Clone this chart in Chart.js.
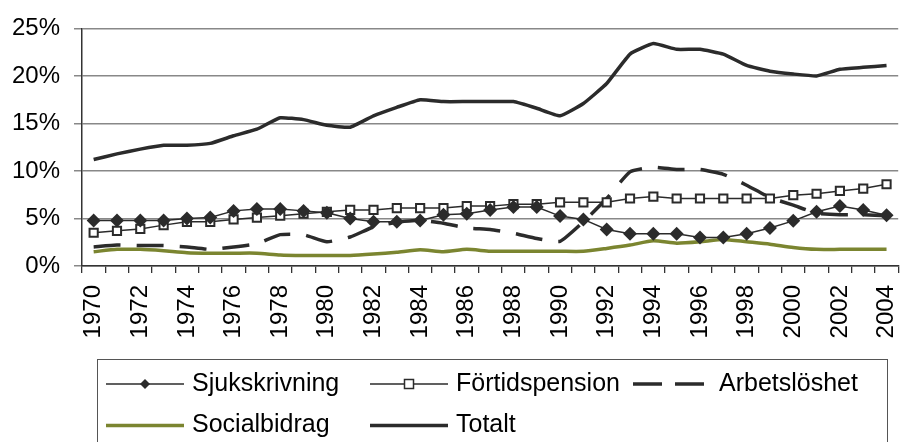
<!DOCTYPE html>
<html>
<head>
<meta charset="utf-8">
<script src="https://cdn.jsdelivr.net/npm/chart.js@4"></script>
<style>
    html, body { margin: 0; padding: 0; background: #fff; overflow: hidden; }
    #wrap { width: 906px; height: 442px; }
</style>
</head>
<body>
<div id="wrap"><canvas id="chart" width="906" height="442"></canvas></div>
<script>
const years = ['1970', '1971', '1972', '1973', '1974', '1975', '1976', '1977', '1978', '1979',
    '1980', '1981', '1982', '1983', '1984', '1985', '1986', '1987', '1988', '1989',
    '1990', '1991', '1992', '1993', '1994', '1995', '1996', '1997', '1998', '1999',
    '2000', '2001', '2002', '2003', '2004'];

const sjukskrivning = [4.8, 4.8, 4.8, 4.8, 5.0, 5.1, 5.8, 6.0, 6.0, 5.8,
    5.6, 5.0, 4.65, 4.65, 4.8, 5.4, 5.5, 5.9, 6.2, 6.2,
    5.25, 4.9, 3.85, 3.4, 3.4, 3.4, 3.0, 3.0, 3.4, 4.0,
    4.75, 5.7, 6.3, 5.9, 5.35];

const fortidspension = [3.5, 3.7, 3.9, 4.3, 4.65, 4.65, 4.9, 5.1, 5.3, 5.5,
    5.7, 5.9, 5.9, 6.1, 6.1, 6.1, 6.3, 6.3, 6.5, 6.5,
    6.7, 6.7, 6.7, 7.1, 7.3, 7.1, 7.1, 7.1, 7.1, 7.1,
    7.45, 7.6, 7.9, 8.15, 8.6];

const arbetsloshet = [2.0, 2.2, 2.15, 2.15, 2.0, 1.75, 2.0, 2.35, 3.3, 3.3,
    2.55, 3.05, 4.1, 4.6, 4.8, 4.5, 4.0, 3.85, 3.45, 2.9,
    2.6, 4.65, 7.1, 9.9, 10.4, 10.15, 10.15, 9.65, 8.5, 7.2,
    6.4, 5.55, 5.4, 5.4, 5.3];

const socialbidrag = [1.5, 1.75, 1.75, 1.6, 1.4, 1.35, 1.35, 1.35, 1.15, 1.1,
    1.1, 1.1, 1.25, 1.45, 1.7, 1.5, 1.75, 1.55, 1.55, 1.55,
    1.55, 1.55, 1.85, 2.2, 2.65, 2.4, 2.55, 2.8, 2.55, 2.3,
    1.95, 1.75, 1.75, 1.75, 1.75];

const totalt = [11.2, 11.8, 12.3, 12.7, 12.7, 12.9, 13.7, 14.4, 15.6, 15.4,
    14.8, 14.6, 15.8, 16.7, 17.5, 17.3, 17.3, 17.3, 17.3, 16.6,
    15.8, 17.1, 19.2, 22.3, 23.4, 22.8, 22.8, 22.3, 21.1, 20.5,
    20.2, 20.0, 20.7, 20.9, 21.1];

const yTicks = [0, 5, 10, 15, 20, 25];

const DARK = '#2b2b2b';
const OLIVE = '#7b8530';
const FONT = '"Liberation Sans", Arial, sans-serif';

// legend drawn by hand so the columns line up like the original
const legendPlugin = {
    id: 'gridLegend',
    afterDraw(chart) {
        const ctx = chart.ctx;
        const cols = [106, 370, 633];
        const rows = [384, 425.5];
        const slots = [[0, 0], [0, 1], [0, 2], [1, 0], [1, 1]];
        ctx.save();
        ctx.strokeStyle = '#555';
        ctx.lineWidth = 1;
        ctx.strokeRect(97.5, 359.5, 790, 120);

        chart.data.datasets.forEach((ds, i) => {
            const x = cols[slots[i][1]];
            const y = rows[slots[i][0]];
            ctx.strokeStyle = ds.borderColor;
            ctx.lineWidth = ds.borderWidth;
            ctx.setLineDash(ds.borderDash ? [29, 13] : []);
            ctx.beginPath();
            ctx.moveTo(x, y);
            ctx.lineTo(x + 78, y);
            ctx.stroke();
            ctx.setLineDash([]);

            const cx = x + 39;
            if (ds.pointStyle === 'rectRot') {
                ctx.fillStyle = DARK;
                ctx.beginPath();
                ctx.moveTo(cx, y - 5);
                ctx.lineTo(cx + 5, y);
                ctx.lineTo(cx, y + 5);
                ctx.lineTo(cx - 5, y);
                ctx.closePath();
                ctx.fill();
            } else if (ds.pointStyle === 'rect') {
                ctx.fillStyle = '#fff';
                ctx.strokeStyle = DARK;
                ctx.lineWidth = 1.5;
                ctx.fillRect(cx - 4.5, y - 4.5, 9, 9);
                ctx.strokeRect(cx - 4.5, y - 4.5, 9, 9);
            }

            ctx.fillStyle = '#000';
            ctx.font = '25px ' + FONT;
            ctx.textBaseline = 'alphabetic';
            ctx.textAlign = 'left';
            ctx.fillText(ds.label, x + 86, y + 6.5);
        });
        ctx.restore();
    }
};

new Chart(document.getElementById('chart'), {
    type: 'line',
    data: {
        labels: years,
        datasets: [{
            label: 'Sjukskrivning',
            data: sjukskrivning,
            borderColor: DARK,
            borderWidth: 1.5,
            pointStyle: 'rectRot',
            pointRadius: 7,
            pointBackgroundColor: DARK,
            pointBorderColor: DARK,
            pointBorderWidth: 0,
            tension: 0
        }, {
            label: 'Förtidspension',
            data: fortidspension,
            borderColor: DARK,
            borderWidth: 1.5,
            pointStyle: 'rect',
            pointRadius: 5.8,
            pointBackgroundColor: '#fff',
            pointBorderColor: DARK,
            pointBorderWidth: 2,
            tension: 0
        }, {
            label: 'Arbetslöshet',
            data: arbetsloshet,
            borderColor: DARK,
            borderWidth: 3.5,
            borderDash: [27, 16],
            pointRadius: 0,
            tension: 0.15
        }, {
            label: 'Socialbidrag',
            data: socialbidrag,
            borderColor: OLIVE,
            borderWidth: 3.5,
            pointRadius: 0,
            tension: 0.2
        }, {
            label: 'Totalt',
            data: totalt,
            borderColor: DARK,
            borderWidth: 3.5,
            pointRadius: 0,
            tension: 0.12
        }]
    },
    options: {
        responsive: false,
        animation: false,
        devicePixelRatio: 1,
        layout: { padding: { top: 28, right: 2, left: 0, bottom: 0 } },
        plugins: { legend: { display: false }, tooltip: { enabled: false } },
        scales: {
            x: {
                offset: true,
                grid: { offset: true, drawOnChartArea: false, drawTicks: true, tickLength: 7, color: '#333', lineWidth: 1.3 },
                border: { color: '#333', width: 1.5 },
                ticks: {
                    autoSkip: false,
                    maxRotation: 90,
                    minRotation: 90,
                    padding: 12,
                    color: '#000',
                    font: { family: FONT, size: 24 },
                    callback: (v, i) => (i % 2 === 0 ? years[i] : '')
                },
                afterFit: s => {
                    s.height = 176;
                    s.paddingLeft = 0;
                    s.paddingRight = 0;
                }
            },
            y: {
                min: 0,
                max: 25,
                afterBuildTicks: s => { s.ticks = yTicks.map(v => ({ value: v })); },
                ticks: {
                    callback: v => v + '%',
                    padding: 14,
                    color: '#000',
                    font: { family: FONT, size: 24 }
                },
                grid: { color: '#888', lineWidth: 1.5, tickLength: 8 },
                border: { color: '#333', width: 1.5 },
                afterFit: s => { s.width = 82; }
            }
        }
    },
    plugins: [legendPlugin]
});
</script>
</body>
</html>
